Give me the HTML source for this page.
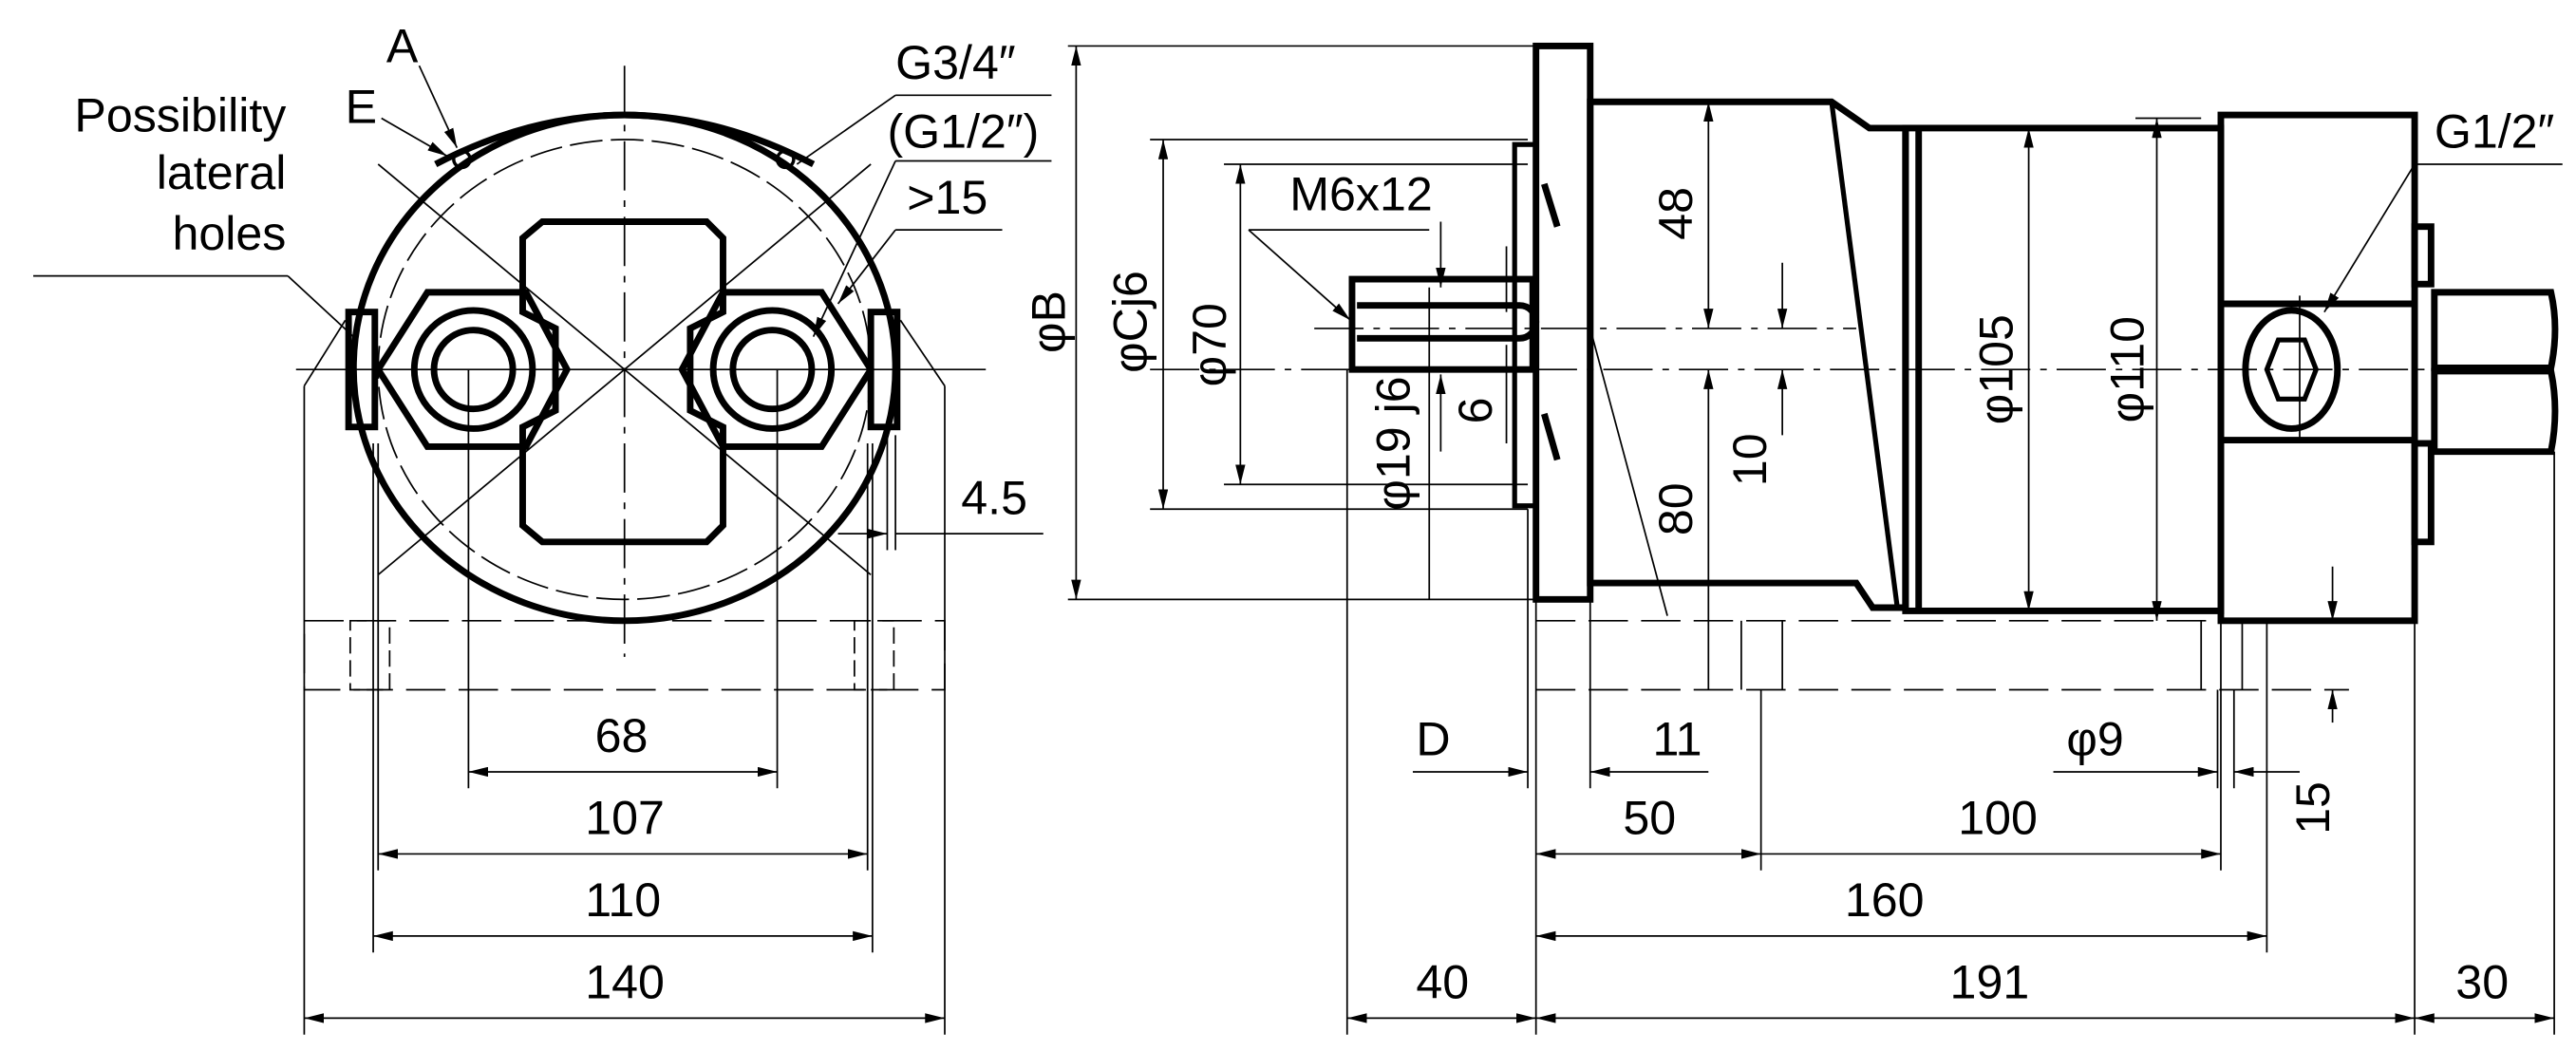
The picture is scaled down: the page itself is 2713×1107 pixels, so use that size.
<!DOCTYPE html>
<html><head><meta charset="utf-8"><style>
html,body{margin:0;padding:0;background:#fff;}
svg{display:block}
text{font-family:"Liberation Sans Narrow","Liberation Sans",sans-serif;font-size:29px;fill:#000}
</style></head><body>
<svg width="2713" height="1107" viewBox="0 0 1568 640" xmlns="http://www.w3.org/2000/svg">
<defs>
<marker id="a" viewBox="0 0 12 6" refX="12" refY="3" markerWidth="12" markerHeight="6" orient="auto-start-reverse" markerUnits="userSpaceOnUse"><path d="M0,0L12,3L0,6z" fill="#000"/></marker>
</defs>
<g fill="none" stroke="#000">
<!-- LEFT VIEW -->
<g stroke-width="1">
<line x1="180" y1="225" x2="600" y2="225"/>
<line x1="380" y1="40" x2="380" y2="400" stroke-dasharray="30,6,4,6"/>
<line x1="230" y1="100" x2="530" y2="350"/><line x1="530" y1="100" x2="230" y2="350"/>
<ellipse cx="380" cy="225" rx="150" ry="140" stroke-dasharray="20,5"/>
<line x1="285" y1="225" x2="285" y2="480"/><line x1="473" y1="225" x2="473" y2="480"/>
<line x1="230" y1="270" x2="230" y2="530"/><line x1="528" y1="270" x2="528" y2="530"/>
<line x1="227" y1="270" x2="227" y2="580"/><line x1="531" y1="270" x2="531" y2="580"/>
<line x1="185" y1="235" x2="185" y2="630"/><line x1="575" y1="235" x2="575" y2="630"/>
<line x1="185" y1="235" x2="210" y2="195"/><line x1="575" y1="235" x2="548" y2="195"/>
<line x1="540" y1="265" x2="540" y2="335"/><line x1="545" y1="265" x2="545" y2="335"/>
<line x1="545" y1="325" x2="635" y2="325"/>
<line x1="20" y1="168" x2="175" y2="168"/><line x1="175" y1="168" x2="215" y2="205"/>
<line x1="255" y1="40" x2="278" y2="90" marker-end="url(#a)"/>
<line x1="232" y1="72" x2="272" y2="95" marker-end="url(#a)"/>
<line x1="545" y1="58" x2="640" y2="58"/><line x1="545" y1="58" x2="485" y2="100"/>
<line x1="545" y1="98" x2="640" y2="98"/><line x1="545" y1="98" x2="495" y2="205" marker-end="url(#a)"/>
<line x1="545" y1="140" x2="610" y2="140"/><line x1="545" y1="140" x2="510" y2="185" marker-end="url(#a)"/>
<rect x="185" y="378" width="390" height="42" stroke-dasharray="24,8"/>
<rect x="213" y="378" width="24" height="42" stroke-dasharray="10,4"/>
<rect x="520" y="378" width="24" height="42" stroke-dasharray="10,4"/>
<line x1="285" y1="470" x2="473" y2="470" marker-start="url(#a)" marker-end="url(#a)"/>
<line x1="230" y1="520" x2="528" y2="520" marker-start="url(#a)" marker-end="url(#a)"/>
<line x1="227" y1="570" x2="531" y2="570" marker-start="url(#a)" marker-end="url(#a)"/>
<line x1="185" y1="620" x2="575" y2="620" marker-start="url(#a)" marker-end="url(#a)"/>
<line x1="510" y1="325" x2="540" y2="325" marker-end="url(#a)"/>
</g>
<g stroke-width="4">
<ellipse cx="380" cy="224" rx="165" ry="154"/>
<path d="M265,100 Q380,40 495,100"/>
<path d="M330,135 L430,135 L440,145 L440,190 L420,200 L420,250 L440,260 L440,320 L430,330 L330,330 L318,320 L318,260 L338,250 L338,200 L318,190 L318,145 Z"/>
<polygon points="230,225 260,178 320,178 345,225 320,272 260,272"/>
<polygon points="415,225 440,178 500,178 530,225 500,272 440,272"/>
<circle cx="288" cy="225" r="36"/><circle cx="288" cy="225" r="24"/>
<circle cx="470" cy="225" r="36"/><circle cx="470" cy="225" r="24"/>
<rect x="212" y="190" width="16" height="70"/><rect x="530" y="190" width="16" height="70"/>
<circle cx="281" cy="97" r="5" stroke-width="2"/><circle cx="478" cy="97" r="5" stroke-width="2"/>
</g>

<!-- RIGHT VIEW -->
<g stroke-width="1">
<line x1="650" y1="28" x2="935" y2="28"/><line x1="650" y1="365" x2="935" y2="365"/>
<line x1="655" y1="28" x2="655" y2="365" marker-start="url(#a)" marker-end="url(#a)"/>
<line x1="700" y1="85" x2="930" y2="85"/><line x1="700" y1="310" x2="930" y2="310"/>
<line x1="708" y1="85" x2="708" y2="310" marker-start="url(#a)" marker-end="url(#a)"/>
<line x1="745" y1="100" x2="930" y2="100"/><line x1="745" y1="295" x2="930" y2="295"/>
<line x1="755" y1="100" x2="755" y2="295" marker-start="url(#a)" marker-end="url(#a)"/>
<line x1="760" y1="140" x2="870" y2="140"/><line x1="760" y1="140" x2="822" y2="195" marker-end="url(#a)"/>
<line x1="870" y1="175" x2="870" y2="365"/>
<line x1="877" y1="135" x2="877" y2="175" marker-end="url(#a)"/><line x1="877" y1="275" x2="877" y2="228" marker-end="url(#a)"/>
<line x1="917" y1="150" x2="917" y2="190"/><line x1="917" y1="210" x2="917" y2="270"/>
<line x1="800" y1="200" x2="1130" y2="200" stroke-dasharray="30,6,4,6"/>
<line x1="700" y1="225" x2="1500" y2="225" stroke-dasharray="30,6,4,6"/>
<line x1="1040" y1="62" x2="1040" y2="200" marker-start="url(#a)" marker-end="url(#a)"/>
<line x1="1040" y1="225" x2="1040" y2="420" marker-start="url(#a)"/>
<line x1="1085" y1="160" x2="1085" y2="200" marker-end="url(#a)"/><line x1="1085" y1="265" x2="1085" y2="225" marker-end="url(#a)"/>
<line x1="968" y1="200" x2="1015" y2="375"/>
<line x1="1235" y1="78" x2="1235" y2="372" marker-start="url(#a)" marker-end="url(#a)"/>
<line x1="1313" y1="72" x2="1313" y2="378" marker-start="url(#a)" marker-end="url(#a)"/>
<line x1="1300" y1="72" x2="1340" y2="72"/>
<line x1="1470" y1="100" x2="1560" y2="100"/><line x1="1470" y1="100" x2="1415" y2="190" marker-end="url(#a)"/>
<line x1="1400" y1="180" x2="1400" y2="270"/>
<line x1="1420" y1="345" x2="1420" y2="378" marker-end="url(#a)"/><line x1="1420" y1="440" x2="1420" y2="420" marker-end="url(#a)"/>
<line x1="935" y1="378" x2="1430" y2="378" stroke-dasharray="24,8"/>
<line x1="935" y1="420" x2="1430" y2="420" stroke-dasharray="24,8"/>
<line x1="1060" y1="378" x2="1060" y2="420"/><line x1="1085" y1="378" x2="1085" y2="420"/>
<line x1="1340" y1="378" x2="1340" y2="420"/><line x1="1365" y1="378" x2="1365" y2="420"/>
<line x1="820" y1="225" x2="820" y2="630"/><line x1="930" y1="310" x2="930" y2="480"/>
<line x1="935" y1="365" x2="935" y2="630"/><line x1="968" y1="365" x2="968" y2="480"/>
<line x1="1072" y1="420" x2="1072" y2="530"/><line x1="1352" y1="378" x2="1352" y2="530"/>
<line x1="1380" y1="378" x2="1380" y2="580"/><line x1="1470" y1="330" x2="1470" y2="630"/>
<line x1="1555" y1="275" x2="1555" y2="630"/>
<line x1="1350" y1="420" x2="1350" y2="480"/><line x1="1360" y1="420" x2="1360" y2="480"/>
<line x1="860" y1="470" x2="930" y2="470" marker-end="url(#a)"/>
<line x1="968" y1="470" x2="1040" y2="470" marker-start="url(#a)"/>
<line x1="1250" y1="470" x2="1350" y2="470" marker-end="url(#a)"/>
<line x1="1360" y1="470" x2="1400" y2="470" marker-start="url(#a)"/>
<line x1="935" y1="520" x2="1072" y2="520" marker-start="url(#a)" marker-end="url(#a)"/>
<line x1="1072" y1="520" x2="1352" y2="520" marker-end="url(#a)"/>
<line x1="935" y1="570" x2="1380" y2="570" marker-start="url(#a)" marker-end="url(#a)"/>
<line x1="820" y1="620" x2="935" y2="620" marker-start="url(#a)" marker-end="url(#a)"/>
<line x1="935" y1="620" x2="1470" y2="620" marker-start="url(#a)" marker-end="url(#a)"/>
<line x1="1470" y1="620" x2="1555" y2="620" marker-start="url(#a)" marker-end="url(#a)"/>
</g>
<g stroke-width="4">
<rect x="935" y="28" width="33" height="337"/>
<polygon points="968,62 1115,62 1138,78 1160,78 1160,370 1140,370 1130,355 968,355"/>
<line x1="1115" y1="62" x2="1155" y2="370" stroke-width="3"/>
<rect x="1160" y="78" width="192" height="294"/>
<line x1="1168" y1="78" x2="1168" y2="372"/>
<rect x="1352" y="70" width="118" height="308"/>
<line x1="1352" y1="185" x2="1470" y2="185"/><line x1="1352" y1="268" x2="1470" y2="268"/>
<rect x="1470" y="138" width="10" height="35"/><rect x="1470" y="270" width="10" height="60"/>
<path d="M1482,178 L1553,178 Q1558,200 1553,224 L1482,224 Z"/>
<path d="M1482,226 L1553,226 Q1558,250 1553,275 L1482,275 Z"/>
<ellipse cx="1395" cy="225" rx="28" ry="36"/>
<polygon points="1387,207 1403,207 1410,225 1403,243 1387,243 1380,225" stroke-width="3"/>
<rect x="823" y="170" width="110" height="55"/>
<path d="M826,186 L925,186 A10,10 0 0 1 925,206 L826,206"/>
<rect x="922" y="88" width="13" height="220" stroke-width="3"/>
<line x1="940" y1="112" x2="948" y2="138"/><line x1="940" y1="252" x2="948" y2="280"/>
</g>
</g>
<text x="174" y="80" text-anchor="end">Possibility</text>
<text x="174" y="115" text-anchor="end">lateral</text>
<text x="174" y="152" text-anchor="end">holes</text>
<text x="235" y="38">A</text><text x="210" y="75">E</text>
<text x="545" y="48">G3/4″</text><text x="540" y="90">(G1/2″)</text><text x="552" y="130">&gt;15</text>
<text x="585" y="313">4.5</text>
<text x="362" y="458">68</text><text x="356" y="508">107</text><text x="356" y="558">110</text><text x="356" y="608">140</text>
<text x="785" y="128">M6x12</text>
<text x="1482" y="90">G1/2″</text>
<text x="862" y="460">D</text><text x="1006" y="460">11</text><text x="1258" y="460">φ9</text>
<text x="988" y="508">50</text><text x="1192" y="508">100</text><text x="1123" y="558">160</text>
<text x="862" y="608">40</text><text x="1187" y="608">191</text><text x="1495" y="608">30</text>
<g text-anchor="middle">
<text transform="translate(648,196) rotate(-90)">φB</text>
<text transform="translate(698,196) rotate(-90)">φCj6</text>
<text transform="translate(746,210) rotate(-90)">φ70</text>
<text transform="translate(858,270) rotate(-90)">φ19 j6</text>
<text transform="translate(908,250) rotate(-90)">6</text>
<text transform="translate(1030,130) rotate(-90)">48</text>
<text transform="translate(1030,310) rotate(-90)">80</text>
<text transform="translate(1075,280) rotate(-90)">10</text>
<text transform="translate(1225,225) rotate(-90)">φ105</text>
<text transform="translate(1305,225) rotate(-90)">φ110</text>
<text transform="translate(1418,492) rotate(-90)">15</text>
</g>
</svg>
</body></html>
